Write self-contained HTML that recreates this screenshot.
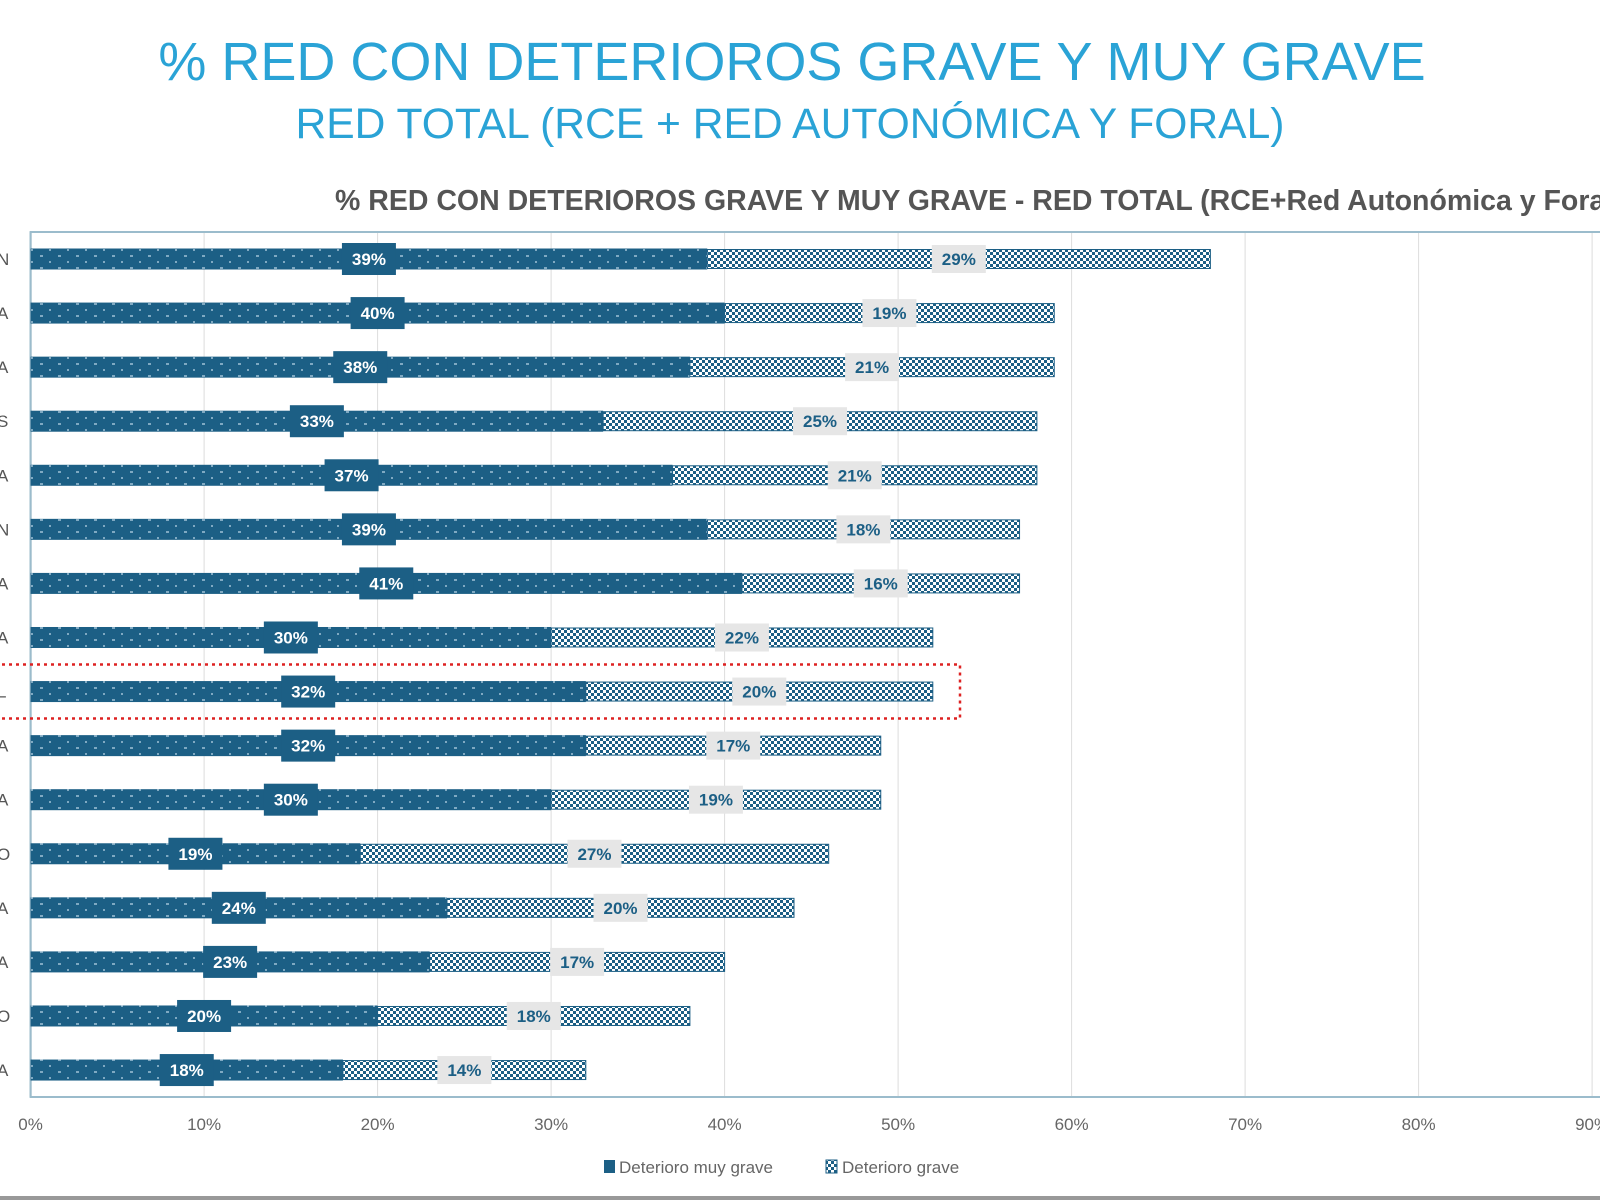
<!DOCTYPE html>
<html><head><meta charset="utf-8">
<style>
html,body{margin:0;padding:0;background:#fff;width:1600px;height:1200px;overflow:hidden;font-family:"Liberation Sans",sans-serif}
.t1{position:absolute;left:0;width:1600px;text-align:center;color:#2aa3d6}
</style></head><body>
<div class="t1" style="top:31px;font-size:54px;left:-8px">% RED CON DETERIOROS GRAVE Y MUY GRAVE</div>
<div class="t1" style="top:100px;font-size:42.6px;left:-10px">RED TOTAL (RCE + RED AUTONÓMICA Y FORAL)</div>
<svg id="chart" width="1600" height="1200" style="position:absolute;left:0;top:0">
<defs>
<pattern id="dots" width="18" height="12" patternUnits="userSpaceOnUse"><rect width="18" height="12" fill="#1c5f85"/><rect x="4" y="3" width="3" height="2" fill="#7fa9c2"/><rect x="13" y="9" width="2" height="2" fill="#7fa9c2"/></pattern>
<pattern id="check" width="6" height="6" patternUnits="userSpaceOnUse"><rect width="6" height="6" fill="#fff"/><rect width="3" height="3" fill="#1c5f85"/><rect x="3" y="3" width="3" height="3" fill="#1c5f85"/></pattern>
</defs>
<text x="335" y="210" font-size="28.5" font-weight="bold" fill="#555">% RED CON DETERIOROS GRAVE Y MUY GRAVE  - RED TOTAL (RCE+Red Autonómica y Foral)</text>
<g id="grid"></g><g id="bars"></g>
</svg>
<script>
const categories=["N","A","A","S","A","N","A","A","L","A","A","O","A","A","O","A"];
const muyGrave=[39,40,38,33,37,39,41,30,32,32,30,19,24,23,20,18];
const grave=[29,19,21,25,21,18,16,22,20,17,19,27,20,17,18,14];
const ticks=[0,10,20,30,40,50,60,70,80,90];
const NS="http://www.w3.org/2000/svg";
const svgEl=document.getElementById('chart'),gridEl=document.getElementById('grid'),barsEl=document.getElementById('bars');
const xs=v=>30.6+v*17.35;
const ys=i=>259+i*54.07;
function mk(tag,attrs,parent){const e=document.createElementNS(NS,tag);for(const k in attrs)e.setAttribute(k,attrs[k]);parent.appendChild(e);return e;}
const yTop=232,yBot=1097;
ticks.forEach(t=>{
 const l=mk('line',{x1:xs(t),x2:xs(t),y1:yTop,y2:yBot,stroke:t===0?'#9ab':'#ddd','stroke-width':t===0?2:1},gridEl);
 
 
 const tx=mk('text',{x:xs(t),y:1130,'text-anchor':'middle','font-size':17,fill:'#666'},gridEl);tx.textContent=t+'%';
 
 
});
const fr=mk('rect',{x:30.6,y:yTop,width:1600,height:yBot-yTop,fill:'none',stroke:'#9bbccc','stroke-width':2},gridEl);


const bh=21;
categories.forEach((c,i)=>{
 const cy=ys(i);
 const ct=mk('text',{x:-3,y:cy+6,'font-size':17,fill:'#555'},barsEl);ct.textContent=c;
 
 
 const a=mk('rect',{x:xs(0),y:cy-bh/2,width:xs(muyGrave[i])-xs(0),height:bh,fill:'url(#dots)'},barsEl);
 
 
 const b=mk('rect',{x:xs(muyGrave[i]),y:cy-bh/2+1,width:xs(muyGrave[i]+grave[i])-xs(muyGrave[i]),height:bh-2,fill:'url(#check)',stroke:'#1c5f85','stroke-width':1},barsEl);
 
 
 const ax=xs(muyGrave[i]/2);
 const ab=mk('rect',{x:ax-27,y:cy-16,width:54,height:32,fill:'#1c5f85'},barsEl);
 
 
 const at=mk('text',{x:ax,y:cy+6,'text-anchor':'middle','font-size':17,'font-weight':'bold',fill:'#fff'},barsEl);at.textContent=muyGrave[i]+'%';
 
 
 const bx=xs(muyGrave[i]+grave[i]/2);
 const bb=mk('rect',{x:bx-27,y:cy-14,width:54,height:28,fill:'#e6e6e6'},barsEl);
 
 
 const bt=mk('text',{x:bx,y:cy+6,'text-anchor':'middle','font-size':17,'font-weight':'bold',fill:'#1c5f85'},barsEl);bt.textContent=grave[i]+'%';
 
 
});
const hl=mk('rect',{x:-5,y:ys(8)-27,width:965,height:54,fill:'none',stroke:'#d22','stroke-width':2.5,'stroke-dasharray':'3,4'},barsEl);


const lg=mk('g',{},svgEl);


const l1=mk('rect',{x:604,y:1160,width:11,height:13,fill:'#1c5f85'},lg);


const t1=mk('text',{x:619,y:1173,'font-size':17,fill:'#666'},lg);t1.textContent='Deterioro muy grave';


const l2=mk('rect',{x:826,y:1160,width:11,height:13,fill:'url(#check)',stroke:'#1c5f85'},lg);


const t2=mk('text',{x:842,y:1173,'font-size':17,fill:'#666'},lg);t2.textContent='Deterioro grave';


const bl=mk('rect',{x:0,y:1196,width:1600,height:4,fill:'#999'},svgEl);


</script>
</body></html>
